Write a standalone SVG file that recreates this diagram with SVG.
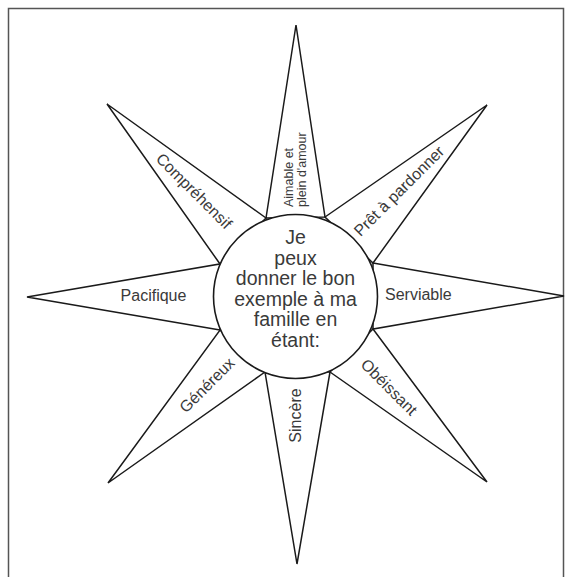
<svg xmlns="http://www.w3.org/2000/svg" width="572" height="577" viewBox="0 0 572 577">
<style>
.spike{fill:#fff;stroke:#1a1a1a;stroke-width:1.5;stroke-linejoin:miter}
.hub{fill:#fff;stroke:#1a1a1a;stroke-width:1.6}
.lbl{font-family:"Liberation Sans",Arial,sans-serif;font-size:16px;fill:#3a3a3a}
.small{font-size:12.5px}
.ctr{font-family:"Liberation Sans",Arial,sans-serif;font-size:19.5px;fill:#3a3a3a;text-anchor:middle}
</style>
<rect width="572" height="577" fill="#fff"/>
<path d="M8.5,577 V8.5 H563.5 V577" fill="none" stroke="#555" stroke-width="1.5"/>
<g id="connectors"/>
<g id="spike-top">
<polygon class="spike" points="266,218 296,25 325,217"/>
<g transform="translate(293.3,207) rotate(-90)">
<text class="lbl small" x="0" y="0">Aimable et</text>
<text class="lbl small" x="0" y="13">plein d'amour</text>
</g>
</g>
<g id="spike-upper-right">
<polygon class="spike" points="325,217 487,105 373,263"/>
<text class="lbl" transform="translate(399,191) rotate(-45)" x="0" y="5.5" text-anchor="middle">Prêt à pardonner</text>
</g>
<g id="spike-right">
<polygon class="spike" points="373,263 564,296 373,329"/>
<text class="lbl" x="385" y="300">Serviable</text>
</g>
<g id="spike-lower-right">
<polygon class="spike" points="373,329 487,482 330,372"/>
<text class="lbl" transform="translate(389,387) rotate(45)" x="0" y="5.5" text-anchor="middle">Obéissant</text>
</g>
<g id="spike-bottom">
<polygon class="spike" points="330,372 297,564 265,372"/>
<text class="lbl" transform="translate(300.5,415.5) rotate(-90)" x="0" y="0" text-anchor="middle">Sincère</text>
</g>
<g id="spike-lower-left">
<polygon class="spike" points="265,372 108,483 220,330"/>
<text class="lbl" transform="translate(207,385) rotate(-45)" x="0" y="5.5" text-anchor="middle">Généreux</text>
</g>
<g id="spike-left">
<polygon class="spike" points="220,330 27,297 220,264"/>
<text class="lbl" x="153.5" y="301" text-anchor="middle">Pacifique</text>
</g>
<g id="spike-upper-left">
<polygon class="spike" points="220,264 107,104 266,218"/>
<text class="lbl" transform="translate(194,191) rotate(45)" x="0" y="5.5" text-anchor="middle">Compréhensif</text>
</g>
<g id="center">
<circle class="hub" cx="295.5" cy="296.5" r="82"/>
<text class="ctr" x="295.5" y="244">Je</text>
<text class="ctr" x="295.5" y="264.5">peux</text>
<text class="ctr" x="295.5" y="285">donner le bon</text>
<text class="ctr" x="295.5" y="305.5">exemple à ma</text>
<text class="ctr" x="295.5" y="326">famille en</text>
<text class="ctr" x="295.5" y="346.5">étant:</text>
</g>
</svg>
